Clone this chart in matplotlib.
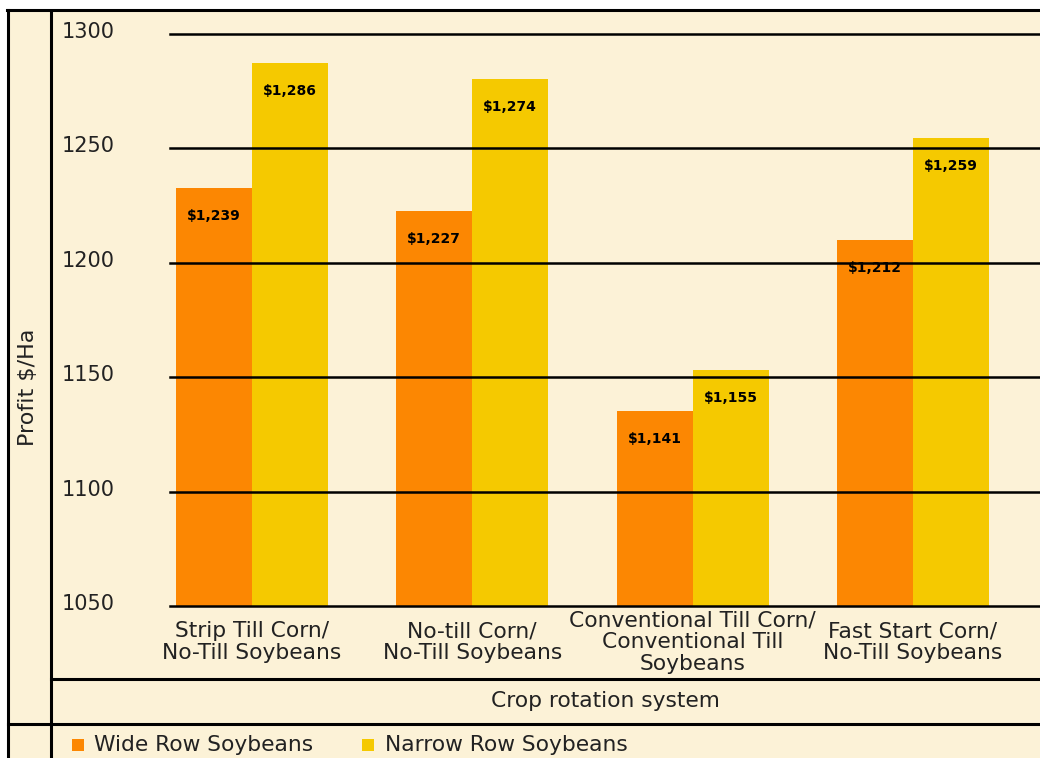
import matplotlib
matplotlib.use("Agg")
import matplotlib.pyplot as plt
from matplotlib.lines import Line2D
from matplotlib.patches import Rectangle
from matplotlib.transforms import ScaledTranslation
import numpy as np

categories = ["Strip Till Corn/\nNo-Till Soybeans",
              "No-till Corn/\nNo-Till Soybeans",
              "Conventional Till Corn/\nConventional Till\nSoybeans",
              "Fast Start Corn/\nNo-Till Soybeans"]
series_names = ["Wide Row Soybeans", "Narrow Row Soybeans"]
wide_values = [1232.7, 1222.6, 1135.2, 1210.0]
narrow_values = [1287.3, 1280.3, 1153.1, 1254.5]
wide_labels = ["$1,239", "$1,227", "$1,141", "$1,212"]
narrow_labels = ["$1,286", "$1,274", "$1,155", "$1,259"]
yticks = [1050, 1100, 1150, 1200, 1250, 1300]
y_title = "Profit $/Ha"
x_title = "Crop rotation system"

W, H = 1040, 758
DPI = 100
BG = "#FCF2D7"
ORANGE = "#FC8702"
YELLOW = "#F5C900"
TXT = "#222222"
FS = 15.7

plt.rcParams['font.family'] = ['DejaVu Sans']

fig = plt.figure(figsize=(W / DPI, H / DPI), dpi=DPI, facecolor="white")

def fx(px):
    return px / W

def fy(py):
    return 1 - py / H

# cream background panel
fig.add_artist(Rectangle((fx(8), 0), fx(W) - fx(8), fy(10), transform=fig.transFigure,
                         facecolor=BG, edgecolor="none", zorder=0))

def hline(y, x0, x1, lw=2.2):
    fig.add_artist(Line2D([fx(x0), fx(x1)], [fy(y), fy(y)], transform=fig.transFigure,
                          color="black", lw=lw, zorder=5))

def vline(x, y0, y1, lw=2.2):
    fig.add_artist(Line2D([fx(x), fx(x)], [fy(y0), fy(y1)], transform=fig.transFigure,
                          color="black", lw=lw, zorder=5))

hline(10, 7, W)
vline(8, 10, H)
vline(51, 12, H)
hline(679, 51, W)
hline(724, 8, W)

# axes: x from 170 to 1040 px, y from 34 (1300) to 606 (1050)
ax = fig.add_axes([fx(170), fy(606), fx(W) - fx(170), fy(34) - fy(606)])
ax.set_facecolor("none")
for s in ax.spines.values():
    s.set_visible(False)

x = np.arange(len(categories))
bw = 0.345
ax.bar(x - bw / 2, [v - 1050 for v in wide_values], bw, bottom=1050, color=ORANGE, zorder=1)
ax.bar(x + bw / 2, [v - 1050 for v in narrow_values], bw, bottom=1050, color=YELLOW, zorder=1)

for t in yticks:
    ax.axhline(t, color="black", lw=1.8, zorder=3, clip_on=False)

ax.set_ylim(1050, 1300)
ax.set_xlim(-82 / 220.3, (1040 - 252) / 220.3)

for xi, v, lab in zip(x - bw / 2, wide_values, wide_labels):
    ax.annotate(lab, (xi, v), xytext=(0, -20), textcoords="offset points",
                ha="center", va="center", fontsize=10, fontweight="bold", zorder=4)
for xi, v, lab in zip(x + bw / 2, narrow_values, narrow_labels):
    ax.annotate(lab, (xi, v), xytext=(0, -20), textcoords="offset points",
                ha="center", va="center", fontsize=10, fontweight="bold", zorder=4)

ax.set_yticks(yticks)
ax.set_yticklabels([str(t) for t in yticks], fontsize=15, color=TXT)
ax.tick_params(axis="y", length=0, pad=(170 - 62) * 72 / DPI)
for lab in ax.get_yticklabels():
    lab.set_horizontalalignment("left")
    lab.set_transform(lab.get_transform() + ScaledTranslation(0, 4 / DPI, fig.dpi_scale_trans))

ax.set_xticks(x)
ax.set_xticklabels(categories, fontsize=FS, color=TXT, linespacing=1.12)
ax.tick_params(axis="x", length=0, pad=36 * 72 / DPI)
for lab in ax.get_xticklabels():
    lab.set_verticalalignment("center")
    lab.set_multialignment("center")

fig.text(fx(28), fy(387), y_title, rotation=90, ha="center", va="center",
         fontsize=16, color=TXT)
fig.text(fx(605), fy(701), x_title, ha="center", va="center", fontsize=FS, color=TXT)

# legend
fig.add_artist(Rectangle((fx(72), fy(751)), fx(12), 12 / H, transform=fig.transFigure,
                         facecolor=ORANGE, edgecolor="none"))
fig.text(fx(94), fy(745), series_names[0], ha="left", va="center", fontsize=FS, color=TXT)
fig.add_artist(Rectangle((fx(362), fy(751)), fx(12), 12 / H, transform=fig.transFigure,
                         facecolor=YELLOW, edgecolor="none"))
fig.text(fx(385), fy(745), series_names[1], ha="left", va="center", fontsize=FS, color=TXT)

fig.savefig("out.png", dpi=DPI, facecolor="white")
